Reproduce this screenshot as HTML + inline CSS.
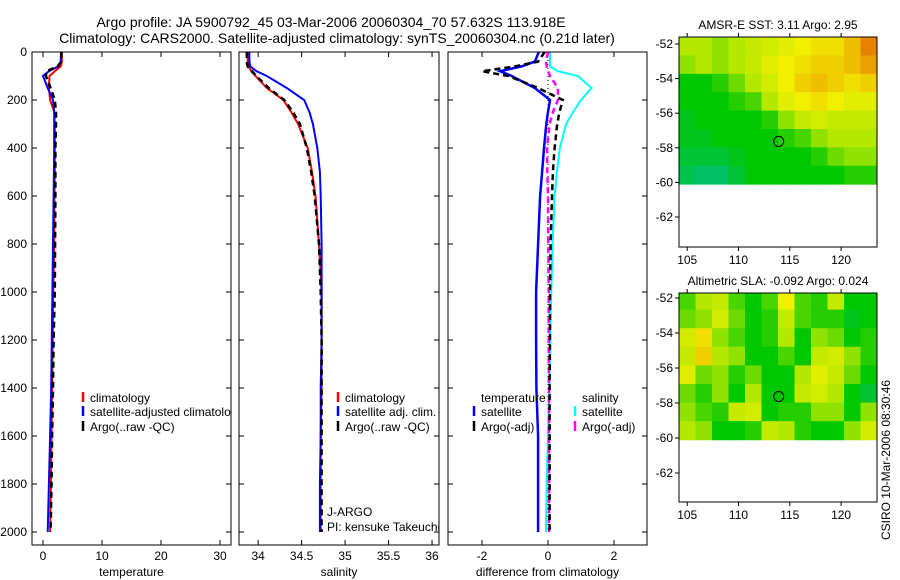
<!DOCTYPE html>
<html><head><meta charset="utf-8">
<style>
html,body{margin:0;padding:0;background:#fff;}
svg{display:block;font-family:"Liberation Sans",sans-serif;}
text{fill:#000;}
</style></head>
<body>
<svg id="chart" width="900" height="580" viewBox="0 0 900 580" xmlns="http://www.w3.org/2000/svg">
<defs><clipPath id="p1clip"><rect x="32" y="52" width="199" height="493"/></clipPath></defs>
<text x="331" y="27" font-size="14" text-anchor="middle">Argo profile: JA 5900792_45 03-Mar-2006 20060304_70 57.632S 113.918E</text>
<text x="337" y="43" font-size="14" text-anchor="middle">Climatology: CARS2000. Satellite-adjusted climatology: synTS_20060304.nc (0.21d later)</text>
<text transform="translate(890,460) rotate(-90)" font-size="12" text-anchor="middle">CSIRO 10-Mar-2006 08:30:46</text>
<g id="layer"></g>
</svg>
<script>
// ---- data ----
const depths = [0, 40, 60, 80, 100, 150, 200, 250, 300, 400, 500, 600, 800, 1000, 1200, 1400, 1600, 1800, 2000];
const tempClim = [3.2, 3.2, 3.0, 2.0, 1.1, 1.0, 1.2, 1.9, 2.0, 2.0, 2.0, 1.95, 1.9, 1.75, 1.65, 1.55, 1.45, 1.35, 1.2];
const tempSat = [3.05, 3.0, 2.6, 1.0, 0.0, 0.8, 1.7, 1.9, 1.9, 1.9, 1.85, 1.8, 1.7, 1.6, 1.5, 1.4, 1.2, 1.0, 0.8];
const tempArgo = [3.1, 3.1, 2.5, 0.6, 0.5, 1.3, 2.0, 2.2, 2.2, 2.1, 2.1, 2.1, 2.05, 2.0, 1.8, 1.7, 1.55, 1.45, 1.3];
const salClim = [33.88, 33.88, 33.89, 33.92, 33.97, 34.1, 34.29, 34.38, 34.46, 34.57, 34.62, 34.66, 34.70, 34.73, 34.73, 34.73, 34.72, 34.72, 34.72];
const salSat = [33.9, 33.9, 33.91, 33.98, 34.1, 34.33, 34.53, 34.59, 34.63, 34.68, 34.71, 34.72, 34.73, 34.73, 34.73, 34.72, 34.72, 34.71, 34.71];
const salArgo = [33.87, 33.87, 33.88, 33.93, 33.98, 34.12, 34.3, 34.4, 34.48, 34.56, 34.61, 34.65, 34.70, 34.72, 34.73, 34.73, 34.73, 34.73, 34.73];
const dTempSat = [-0.28, -0.4, -0.8, -1.45, -1.1, -0.4, 0.06, 0.0, -0.05, -0.12, -0.18, -0.24, -0.3, -0.36, -0.36, -0.35, -0.3, -0.3, -0.3];
const dTempArgo = [-0.1, -0.3, -1.0, -2.0, -1.2, -0.3, 0.45, 0.35, 0.28, 0.2, 0.15, 0.12, 0.08, 0.06, 0.06, 0.05, 0.05, 0.05, 0.05];
const dSalSat = [0.06, 0.06, 0.06, 0.3, 0.9, 1.32, 1.0, 0.76, 0.55, 0.36, 0.27, 0.2, 0.14, 0.1, 0.06, 0.04, 0.0, -0.04, -0.06];
const dSalArgo = [0.0, -0.06, -0.04, 0.0, 0.06, 0.3, 0.3, 0.15, 0.05, -0.03, -0.02, 0.0, 0.01, 0.02, 0.02, 0.03, 0.03, 0.03, 0.03];
const depthTicks = [0, 200, 400, 600, 800, 1000, 1200, 1400, 1600, 1800, 2000];
const tempTicks = [0, 10, 20, 30];
const salTicks = [34, 34.5, 35, 35.5, 36];
const salTickLabels = ["34", "34.5", "35", "35.5", "36"];
const diffTicks = [-2, 0, 2];
const lonTicks = [105, 110, 115, 120];
const latTicks = [-52, -54, -56, -58, -60, -62];
const sstGrid = [
 [.55,.55,.5,.55,.6,.65,.7,.75,.8,.8,.9,1],
 [.5,.55,.5,.55,.6,.7,.75,.8,.85,.85,.9,.95],
 [.3,.3,.35,.45,.55,.65,.75,.85,.9,.85,.8,.85],
 [.3,.3,.3,.35,.4,.55,.7,.75,.8,.75,.7,.7],
 [.25,.3,.3,.3,.3,.35,.5,.6,.65,.6,.6,.6],
 [.25,.25,.3,.3,.3,.3,.35,.4,.5,.55,.55,.55],
 [.2,.2,.2,.25,.3,.3,.3,.3,.35,.45,.5,.5],
 [.15,.1,.1,.2,.3,.3,.3,.3,.3,.3,.35,.35]];
const slaGrid = [
 [.4,.55,.6,.4,.3,.4,.75,.4,.35,.6,.3,.3],
 [.45,.5,.65,.45,.3,.35,.6,.4,.35,.35,.25,.3],
 [.65,.8,.5,.4,.3,.35,.55,.3,.5,.45,.3,.35],
 [.6,.85,.55,.5,.3,.3,.4,.3,.6,.65,.5,.35],
 [.7,.45,.5,.35,.45,.3,.3,.55,.7,.6,.45,.3],
 [.45,.35,.5,.3,.55,.3,.3,.6,.65,.55,.3,.2],
 [.5,.4,.35,.6,.65,.3,.35,.35,.5,.5,.3,.5],
 [.55,.5,.3,.3,.35,.6,.55,.35,.3,.3,.5,.65]];
const argoLon = 113.918, argoLat = -57.632;

// ---- drawing ----
const NS = "http://www.w3.org/2000/svg";
const layer = document.getElementById('layer');
function mk(tag, attrs, parent) {
  const e = document.createElementNS(NS, tag);
  for (const k in attrs) e.setAttribute(k, attrs[k]);
  (parent || layer).appendChild(e);
  return e;
}
const yD = d => 52 + d * 0.24;
const PY0 = 52, PY1 = 545;
const panels = [
  {name: 'temperature', x0: 32, x1: 231, v0: -1.86, v1: 31.86, ticks: tempTicks, labels: tempTicks.map(String), xlabel: 'temperature'},
  {name: 'salinity', x0: 239, x1: 439, v0: 33.78, v1: 36.08, ticks: salTicks, labels: salTickLabels, xlabel: 'salinity'},
  {name: 'difference', x0: 448, x1: 647, v0: -3.03, v1: 3.0, ticks: diffTicks, labels: diffTicks.map(String), xlabel: 'difference from climatology'}
];
function xf(p) { return v => p.x0 + (v - p.v0) / (p.v1 - p.v0) * (p.x1 - p.x0); }

function line(p, vals, color, dash, w, name) {
  const X = xf(p);
  const pts = vals.map((v, i) => X(v).toFixed(1) + ',' + yD(depths[i]).toFixed(1)).join(' ');
  const e = mk('polyline', {points: pts, fill: 'none', stroke: color, 'stroke-width': w});
  if (dash) e.setAttribute('stroke-dasharray', dash);
  
  
}

panels.forEach((p, pi) => {
  const g = mk('g', {});
  
  
  const X = xf(p);
  p.ticks.forEach((t, i) => {
    mk('line', {x1: X(t), x2: X(t), y1: PY1, y2: PY1 - 5, stroke: '#000'}, g);
    mk('line', {x1: X(t), x2: X(t), y1: PY0, y2: PY0 + 5, stroke: '#000'}, g);
    const tl = mk('text', {x: X(t), y: 560, 'font-size': 12, 'text-anchor': 'middle'}, g);
    tl.textContent = p.labels[i];
    
    
  });
  depthTicks.forEach(d => {
    mk('line', {x1: p.x0, x2: p.x0 + 5, y1: yD(d), y2: yD(d), stroke: '#000'}, g);
    mk('line', {x1: p.x1, x2: p.x1 - 5, y1: yD(d), y2: yD(d), stroke: '#000'}, g);
    if (pi === 0) {
      const tl = mk('text', {x: 27, y: yD(d) + 4, 'font-size': 12, 'text-anchor': 'end'}, g);
      tl.textContent = String(d);
      
      
    }
  });
  const xl = mk('text', {x: (p.x0 + p.x1) / 2, y: 576, 'font-size': 12, 'text-anchor': 'middle'}, g);
  xl.textContent = p.xlabel;
  
  
});

const P = panels;
mk('line', {x1: xf(P[2])(0), x2: xf(P[2])(0), y1: PY0, y2: yD(2000), stroke: '#000', 'stroke-dasharray': '1,3'});
line(P[0], tempClim, '#f00', null, 2, 'temp-climatology-line');
line(P[0], tempSat, '#00f', null, 2, 'temp-satellite-line');
line(P[0], tempArgo, '#000', '6,4', 2.5, 'temp-argo-line');
line(P[1], salClim, '#f00', null, 2, 'sal-climatology-line');
line(P[1], salSat, '#00f', null, 2, 'sal-satellite-line');
line(P[1], salArgo, '#000', '6,4', 2.5, 'sal-argo-line');
line(P[2], dSalSat, '#0ff', null, 2, 'diff-sal-satellite-line');
line(P[2], dSalArgo, '#f0f', '6,4', 2.5, 'diff-sal-argo-line');
line(P[2], dTempSat, '#00f', null, 2.5, 'diff-temp-satellite-line');
line(P[2], dTempArgo, '#000', '6,4', 2.5, 'diff-temp-argo-line');

panels.forEach(p => {
  const r = mk('rect', {x: p.x0, y: PY0, width: p.x1 - p.x0, height: PY1 - PY0, fill: 'none', stroke: '#000'});
  
  
});

function legend(x, y, color, label, name, clip) {
  const g = mk('g', {});
  
  
  if (clip) g.setAttribute('clip-path', clip);
  mk('line', {x1: x, x2: x, y1: y - 10, y2: y, stroke: color, 'stroke-width': 2.5}, g);
  const t = mk('text', {x: x + 7, y: y, 'font-size': 12}, g);
  t.textContent = label;
}
legend(83, 402, '#f00', 'climatology', 'legend-climatology', 'url(#p1clip)');
legend(83, 416, '#00f', 'satellite-adjusted climatology', 'legend-satellite-adjusted', 'url(#p1clip)');
legend(83, 431, '#000', 'Argo(..raw -QC)', 'legend-argo-raw', 'url(#p1clip)');
legend(338, 402, '#f00', 'climatology', 'legend-sal-climatology');
legend(338, 416, '#00f', 'satellite adj. clim.', 'legend-sal-satellite');
legend(338, 431, '#000', 'Argo(..raw -QC)', 'legend-sal-argo');
const th = mk('text', {x: 481, y: 402, 'font-size': 12}); th.textContent = 'temperature';


const sh = mk('text', {x: 582, y: 402, 'font-size': 12}); sh.textContent = 'salinity';


legend(474, 416, '#00f', 'satellite', 'legend-diff-temp-satellite');
legend(474, 431, '#000', 'Argo(-adj)', 'legend-diff-temp-argo');
legend(575, 416, '#0ff', 'satellite', 'legend-diff-sal-satellite');
legend(575, 431, '#f0f', 'Argo(-adj)', 'legend-diff-sal-argo');
const j1 = mk('text', {x: 327, y: 516, 'font-size': 12}); j1.textContent = 'J-ARGO';


const j2 = mk('text', {x: 327, y: 531, 'font-size': 12}); j2.textContent = 'PI: kensuke Takeuchi';



// ---- maps ----
const stops = [[0, [0, 190, 150]], [0.3, [0, 200, 0]], [0.55, [180, 232, 0]], [0.75, [240, 240, 0]], [0.9, [240, 190, 0]], [1, [230, 130, 0]]];
function cmap(v) {
  for (let i = 1; i < stops.length; i++) {
    if (v <= stops[i][0]) {
      const a = stops[i - 1], b = stops[i], t = (v - a[0]) / (b[0] - a[0]);
      return 'rgb(' + a[1].map((c, k) => Math.round(c + (b[1][k] - c) * t)).join(',') + ')';
    }
  }
  return 'rgb(230,130,0)';
}
const LON0 = 104.2, LON1 = 123.5, LATTOP = -51.6, LATDATA = -60.1;
function drawMap(top, bottom, pxPerLat, lat52y, grid, title, name) {
  const g = mk('g', {});
  
  
  const mx0 = 679, mx1 = 877;
  const X = lon => mx0 + (lon - LON0) / (LON1 - LON0) * (mx1 - mx0);
  const Y = lat => lat52y + (-52 - lat) * pxPerLat;
  const rows = grid.length, cols = grid[0].length;
  const dLat = (LATTOP - LATDATA) / rows, dLon = (LON1 - LON0) / cols;
  grid.forEach((row, r) => row.forEach((v, c) => {
    const x = X(LON0 + c * dLon), y = Math.max(top, Y(LATTOP - r * dLat));
    const c2 = mk('rect', {x: x, y: y, width: X(LON0 + (c + 1) * dLon) - x + 0.5, height: Y(LATTOP - (r + 1) * dLat) - y + 0.5, fill: cmap(v)}, g);
    
    
  }));
  mk('rect', {x: mx0, y: top, width: mx1 - mx0, height: bottom - top, fill: 'none', stroke: '#000'}, g);
  lonTicks.forEach(t => {
    mk('line', {x1: X(t), x2: X(t), y1: bottom, y2: bottom + 4, stroke: '#000'}, g);
    mk('line', {x1: X(t), x2: X(t), y1: top, y2: top - 4, stroke: '#000'}, g);
    const tl = mk('text', {x: X(t), y: bottom + 17, 'font-size': 12, 'text-anchor': 'middle'}, g);
    tl.textContent = String(t);
    
    
  });
  latTicks.forEach(t => {
    mk('line', {x1: mx0, x2: mx0 - 4, y1: Y(t), y2: Y(t), stroke: '#000'}, g);
    const tl = mk('text', {x: mx0 - 6, y: Y(t) + 4, 'font-size': 12, 'text-anchor': 'end'}, g);
    tl.textContent = String(t);
    
    
  });
  const ci = mk('circle', {cx: X(argoLon), cy: Y(argoLat), r: 5, fill: 'none', stroke: '#000'}, g);
  
  
  const tt = mk('text', {x: (mx0 + mx1) / 2, y: top - 8, 'font-size': 12, 'text-anchor': 'middle'}, g);
  tt.textContent = title;
  
  
}
drawMap(37, 247, 17.3, 44, sstGrid, 'AMSR-E SST: 3.11 Argo: 2.95', 'sst-map');
drawMap(293, 502, 17.5, 298, slaGrid, 'Altimetric SLA: -0.092 Argo: 0.024', 'sla-map');
</script>
</body></html>
